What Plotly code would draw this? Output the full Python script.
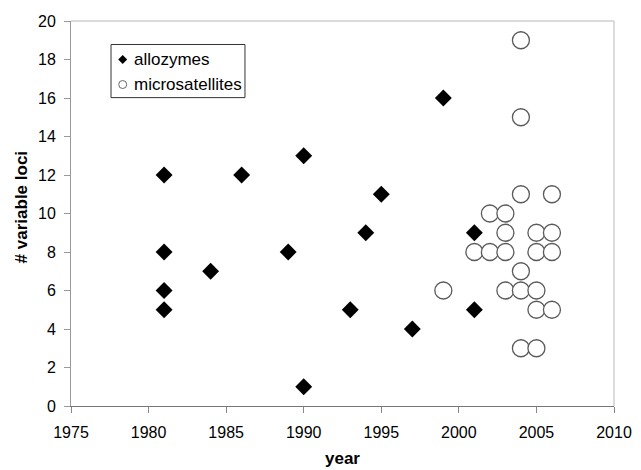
import plotly.graph_objects as go

allo_year = [1981, 1981, 1981, 1981, 1984, 1986, 1989, 1990, 1990, 1993, 1994, 1995, 1997, 1999, 2001, 2001]
allo_loci = [12, 8, 6, 5, 7, 12, 8, 13, 1, 5, 9, 11, 4, 16, 9, 5]

micro_year = [1999, 2001, 2002, 2002, 2003, 2003, 2003, 2003,
              2004, 2004, 2004, 2004, 2004, 2004,
              2005, 2005, 2005, 2005, 2005,
              2006, 2006, 2006, 2006]
micro_loci = [6, 8, 10, 8, 10, 9, 8, 6,
              19, 15, 11, 7, 6, 3,
              9, 8, 6, 5, 3,
              11, 9, 8, 5]

x_ticks = [1975, 1980, 1985, 1990, 1995, 2000, 2005, 2010]
y_ticks = list(range(0, 21, 2))
series_names = ["allozymes", "microsatellites"]

FONT = "Liberation Sans, Arial, sans-serif"

fig = go.Figure()
fig.add_trace(go.Scatter(
    x=micro_year, y=micro_loci, mode="markers", name=series_names[1], showlegend=False,
    marker=dict(symbol="circle", size=17, color="white",
                line=dict(color="#5a5a5a", width=1.3))))
fig.add_trace(go.Scatter(
    x=allo_year, y=allo_loci, mode="markers", name=series_names[0], showlegend=False,
    marker=dict(symbol="diamond", size=13, color="black",
                line=dict(color="black", width=0))))

fig.update_layout(
    width=633, height=462,
    margin=dict(l=63, r=27, t=13, b=64),
    paper_bgcolor="white", plot_bgcolor="white",
    font=dict(family=FONT, size=16, color="black"),
    showlegend=False,
)
fig.update_xaxes(
    range=[1975, 2010], tickvals=x_ticks, ticks="outside", ticklen=6,
    tickcolor="#888888", showline=True, linecolor="#777777", linewidth=1,
    showgrid=False, zeroline=False, automargin=False, ticklabelstandoff=6)
fig.update_yaxes(
    range=[0, 20], tickvals=y_ticks, ticks="outside", ticklen=6,
    tickcolor="#999999", showline=True, linecolor="#999999", linewidth=1,
    showgrid=False, zeroline=False, automargin=False, ticklabelstandoff=5)

# light frame on top and right
fig.add_shape(type="line", xref="paper", yref="paper", x0=0, x1=1, y0=1, y1=1,
              line=dict(color="#cfcfcf", width=1.5))
fig.add_shape(type="line", xref="paper", yref="paper", x0=1, x1=1, y0=0, y1=1,
              line=dict(color="#cfcfcf", width=1.5))

# axis titles
fig.add_annotation(text="<b>year</b>", xref="paper", yref="paper", x=0.5, y=-0.137,
                   xanchor="center", yanchor="middle", showarrow=False,
                   font=dict(size=17))
fig.add_annotation(text="<b># variable loci</b>", xref="paper", yref="paper", x=-0.092, y=0.516,
                   xanchor="center", yanchor="middle", showarrow=False, textangle=-90,
                   font=dict(size=17))

# legend box
fig.add_shape(type="rect", xref="paper", yref="paper", x0=0.0737, x1=0.3204, y0=0.801, y1=0.939,
              line=dict(color="#333333", width=1), fillcolor="white")
fig.add_shape(type="path", xref="paper", yref="paper", xsizemode="pixel", ysizemode="pixel",
              xanchor=0.0952, yanchor=0.900, path="M -4.5 0 L 0 4.5 L 4.5 0 L 0 -4.5 Z",
              fillcolor="black", line=dict(color="black", width=0))
fig.add_shape(type="circle", xref="paper", yref="paper", xsizemode="pixel", ysizemode="pixel",
              xanchor=0.0952, yanchor=0.835, x0=-4, x1=4, y0=-4, y1=4,
              fillcolor="white", line=dict(color="#666666", width=1))
fig.add_annotation(text=series_names[0], xref="paper", yref="paper", x=0.1118, y=0.900,
                   xanchor="left", yanchor="middle", showarrow=False, font=dict(size=17))
fig.add_annotation(text=series_names[1], xref="paper", yref="paper", x=0.1118, y=0.835,
                   xanchor="left", yanchor="middle", showarrow=False, font=dict(size=17))

fig.write_html("out.html")
